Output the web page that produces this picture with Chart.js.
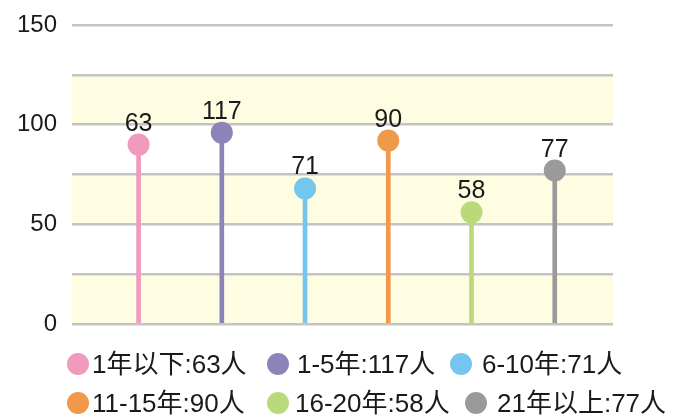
<!DOCTYPE html>
<html><head><meta charset="utf-8">
<script src="https://cdn.jsdelivr.net/npm/chart.js@4/dist/chart.umd.min.js"></script>
<style>html,body{margin:0;padding:0;background:#fff}#wrap{width:674px;height:416px}</style>
</head><body><div id="wrap"><canvas id="c" width="674" height="416"></canvas></div>
<script>
// ---- data ----
const categories = ['1年以下', '1-5年', '6-10年', '11-15年', '16-20年', '21年以上'];
const counts = [63, 117, 71, 90, 58, 77];              // numbers printed on the chart
const plottedHeights = [90, 96, 68, 92, 56, 77];       // heights at which the dots are drawn in the picture
const xSlots = [1, 2, 3, 4, 5, 6];
const yTickLabels = [0, 50, 100, 150];
const bandRanges = [[0, 25], [50, 75], [100, 125]];
const colors = ['#f09abe', '#8c84b8', '#74c6ef', '#f0994a', '#b9da7b', '#9a9a9a'];

const TXT = 'Liberation Sans, Arial, "Noto Sans CJK SC", sans-serif';
const points = xSlots.map((x, i) => ({ x: x, y: plottedHeights[i] }));

const bandsPlugin = {
  id: 'bands',
  beforeDraw(chart) {
    const { ctx, chartArea: a, scales: { y } } = chart;
    ctx.save();
    ctx.fillStyle = '#fefce1';
    bandRanges.forEach(([lo, hi]) => {
      const y1 = y.getPixelForValue(hi), y2 = y.getPixelForValue(lo);
      ctx.fillRect(a.left, y1, a.right - a.left, y2 - y1);
    });
    ctx.restore();
  }
};

const valueLabels = {
  id: 'valueLabels',
  afterDatasetsDraw(chart) {
    const { ctx } = chart;
    const meta = chart.getDatasetMeta(0);
    ctx.save();
    ctx.font = '25px ' + TXT;
    ctx.fillStyle = '#1a1a1a';
    ctx.textAlign = 'center';
    ctx.textBaseline = 'alphabetic';
    meta.data.forEach((el, i) => {
      ctx.fillText(String(counts[i]), el.x, el.y - 14);
    });
    ctx.restore();
  }
};

const customLegend = {
  id: 'customLegend',
  afterDraw(chart) {
    const { ctx } = chart;
    const layout = [
      { cx: 78, tx: 92, cy: 364 }, { cx: 278, tx: 297, cy: 364 }, { cx: 461, tx: 482, cy: 364 },
      { cx: 78, tx: 92, cy: 403 }, { cx: 278, tx: 295, cy: 403 }, { cx: 476, tx: 497, cy: 403 }
    ];
    ctx.save();
    ctx.font = '26px ' + TXT;
    ctx.textAlign = 'left';
    ctx.textBaseline = 'alphabetic';
    categories.forEach((c, i) => {
      const L = layout[i];
      ctx.fillStyle = colors[i];
      ctx.beginPath();
      ctx.arc(L.cx, L.cy, 11, 0, Math.PI * 2);
      ctx.fill();
      ctx.fillStyle = '#1a1a1a';
      ctx.fillText(c + ':' + counts[i] + '人', L.tx, L.cy + 9);
    });
    ctx.restore();
  }
};

new Chart(document.getElementById('c'), {
  type: 'bar',
  data: {
    datasets: [
      {
        type: 'scatter', data: points, order: 0,
        pointRadius: 11, pointHoverRadius: 11,
        pointBackgroundColor: colors, backgroundColor: colors,
        pointBorderWidth: 0, borderWidth: 0
      },
      {
        type: 'bar', data: points, order: 1,
        backgroundColor: colors, barThickness: 4, borderWidth: 0
      }
    ]
  },
  options: {
    responsive: false,
    animation: false,
    events: [],
    layout: { padding: { top: 25, right: 61, bottom: 92, left: 0 } },
    scales: {
      x: { type: 'linear', min: 0.2, max: 6.7, offset: false, display: false },
      y: {
        min: 0, max: 150,
        afterFit(s) { s.width = 72; s.paddingTop = 0; s.paddingBottom = 0; },
        ticks: {
          stepSize: 25,
          callback: v => (yTickLabels.includes(v) ? String(v) : ''),
          font: { family: TXT, size: 24 },
          color: '#1a1a1a',
          padding: 15
        },
        grid: { color: '#c4c4c4', lineWidth: 2.5, drawTicks: false },
        border: { display: false }
      }
    },
    plugins: { legend: { display: false }, tooltip: { enabled: false } }
  },
  plugins: [bandsPlugin, valueLabels, customLegend]
});
</script>
</body></html>
